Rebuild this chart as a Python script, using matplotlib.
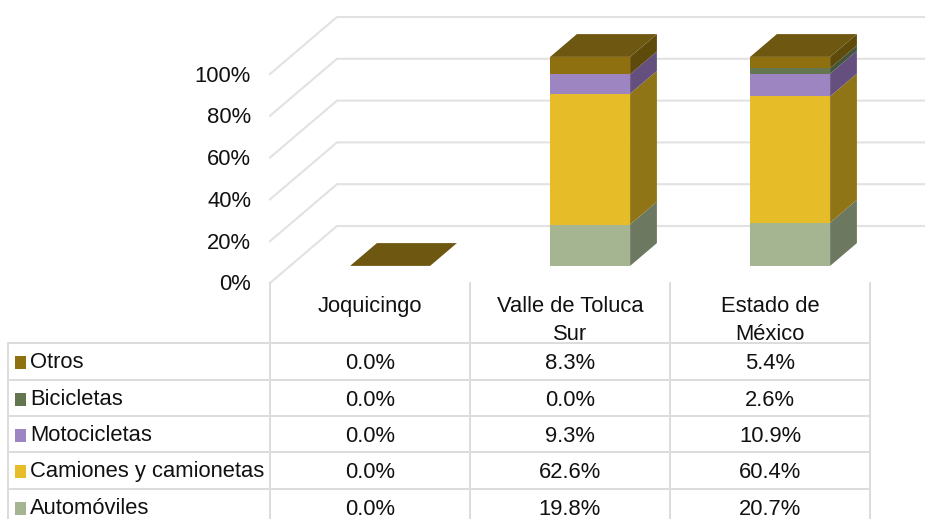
import matplotlib
matplotlib.use("Agg")
import matplotlib.pyplot as plt

plt.rcParams['font.family'] = ['Liberation Sans', 'DejaVu Sans']

categories = ["Joquicingo", "Valle de Toluca\nSur", "Estado de\nMéxico"]
series_names = ["Otros", "Bicicletas", "Motocicletas", "Camiones y camionetas", "Automóviles"]
otros = [0.0, 8.3, 5.4]
bicicletas = [0.0, 0.0, 2.6]
motocicletas = [0.0, 9.3, 10.9]
camiones = [0.0, 62.6, 60.4]
automoviles = [0.0, 19.8, 20.7]
y_ticks = [0, 20, 40, 60, 80, 100]

front_colors = ["#8F7010", "#637650", "#9C85C0", "#E7BC29", "#A5B592"]
side_colors = ["#5E4A0A", "#44553A", "#644F7E", "#8F7516", "#6D7860"]
top_color = "#6E5710"
grid_color = "#E2E2E2"

W, H = 925, 519
fig = plt.figure(figsize=(W / 100, H / 100), dpi=100)

# вісь графіка: x - категорії, y - відсотки
px_per_cat = 200
px_per_pct = 2.09
ax = fig.add_axes([270 / W, 1 - 283 / H, (W - 270) / W, 283 / H])
ax.set_xlim(0, (W - 270) / px_per_cat)
ax.set_ylim(0, 283 / px_per_pct)
ax.axis("off")

# зсув у глибину для псевдо-3D
wall_dx = 67 / px_per_cat
wall_dy = 57 / px_per_pct
bar_width = 0.4
depth_front = 0.30
depth_back = 0.70


def shift(x, y, depth):
    return x + wall_dx * depth, y + wall_dy * depth


# стіни і сітка
for t in y_ticks:
    x0, y0 = shift(0, t, 0)
    x1, y1 = shift(0, t, 1)
    ax.plot([x0, x1, ax.get_xlim()[1]], [y0, y1, y1], color=grid_color, lw=1.5, zorder=1,
            clip_on=False, solid_joinstyle="miter")

# стовпчики знизу вгору
stack = [automoviles, camiones, motocicletas, bicicletas, otros]
stack_front = front_colors[::-1]
stack_side = side_colors[::-1]
for i in range(len(categories)):
    left = i + 0.5 - bar_width / 2
    right = i + 0.5 + bar_width / 2
    bottom = 0
    for vals, fc, sc in zip(stack, stack_front, stack_side):
        top = bottom + vals[i]
        if vals[i] > 0:
            a = shift(left, bottom, depth_front)
            b = shift(right, bottom, depth_front)
            c = shift(right, top, depth_front)
            d = shift(left, top, depth_front)
            ax.fill([a[0], b[0], c[0], d[0]], [a[1], b[1], c[1], d[1]], color=fc, lw=0, zorder=3)
            e = shift(right, bottom, depth_back)
            f = shift(right, top, depth_back)
            ax.fill([b[0], e[0], f[0], c[0]], [b[1], e[1], f[1], c[1]], color=sc, lw=0, zorder=3)
        bottom = top
    # верхня грань
    p = [shift(left, bottom, depth_front), shift(right, bottom, depth_front),
         shift(right, bottom, depth_back), shift(left, bottom, depth_back)]
    ax.fill([q[0] for q in p], [q[1] for q in p], color=top_color, lw=0, zorder=4)

# накладка в пікселях для таблиці і підписів
tb = fig.add_axes([0, 0, 1, 1], facecolor="none")
tb.set_xlim(0, W)
tb.set_ylim(H, 0)
tb.axis("off")

fs = 15.8
line_color = "#DCDCDC"
col_x = [270, 470, 670, 870]
row_y = [343, 380, 416, 452, 489]
row_h = 36.3

for t in y_ticks:
    tb.text(251, 285 - t * px_per_pct, f"{t}%", ha="right", va="center", fontsize=fs, color="#111111")

for x in col_x:
    tb.plot([x, x], [283, H], color=line_color, lw=1.4, zorder=1)
tb.plot([8, 8], [row_y[0], H], color=line_color, lw=1.4, zorder=1)
for y in row_y:
    tb.plot([8, col_x[-1]], [y, y], color=line_color, lw=1.4, zorder=1)

for i, name in enumerate(categories):
    tb.text(col_x[i] + 100, 296, name, ha="center", va="top", fontsize=fs, color="#111111", linespacing=1.42)

table_rows = [otros, bicicletas, motocicletas, camiones, automoviles]
for r, (name, vals) in enumerate(zip(series_names, table_rows)):
    cy = row_y[r] + row_h / 2
    tb.fill([15, 26, 26, 15], [cy - 5, cy - 5, cy + 7.5, cy + 7.5], color=front_colors[r], lw=0)
    tb.text(30, cy + 1.5, name, ha="left", va="center", fontsize=fs, color="#111111")
    for i, v in enumerate(vals):
        tb.text(col_x[i] + 100, cy + 2, f"{v:.1f}%", ha="center", va="center", fontsize=fs, color="#111111")

fig.savefig("out.png", dpi=100, facecolor="white")
